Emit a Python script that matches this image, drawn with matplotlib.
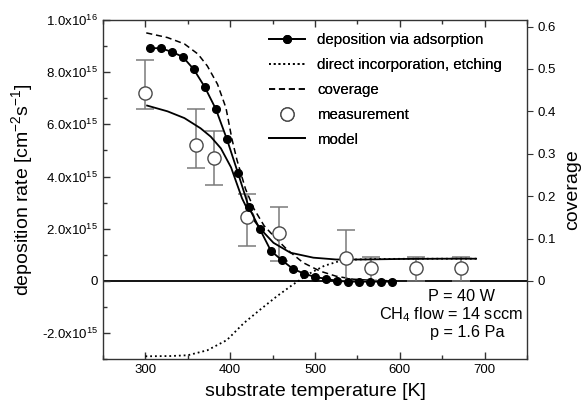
import numpy as np
import matplotlib
matplotlib.use('Agg')
import matplotlib.pyplot as plt
from matplotlib.ticker import FixedLocator, FixedFormatter, MultipleLocator

plt.rcParams['font.family'] = ['Liberation Sans', 'DejaVu Sans']
plt.rcParams['mathtext.fontset'] = 'custom'
plt.rcParams['mathtext.rm'] = 'Liberation Sans'
plt.rcParams['mathtext.it'] = 'Liberation Sans:italic'
plt.rcParams['mathtext.default'] = 'rm'

# deposition via adsorption (filled dots)
T_ads = [305, 318, 331, 344, 357, 370, 383, 396, 409, 422, 435, 448,
         461, 474, 487, 500, 513, 526, 539, 552, 565, 578, 591]
r_ads = [8.92e15, 8.92e15, 8.78e15, 8.59e15, 8.11e15, 7.43e15, 6.59e15,
         5.44e15, 4.15e15, 2.82e15, 1.98e15, 1.15e15, 0.79e15, 0.46e15,
         0.28e15, 0.15e15, 0.08e15, 0.0, -0.03e15, -0.03e15, -0.03e15,
         -0.03e15, -0.03e15]

# direct incorporation, etching (dotted)
T_dir = [300, 330, 350, 373, 396, 416, 435, 455, 474, 482, 491, 511,
         530, 549, 580, 620, 660, 690]
r_dir = [-2.89e15, -2.88e15, -2.85e15, -2.66e15, -2.27e15, -1.62e15,
         -1.11e15, -0.59e15, -0.14e15, 0.03e15, 0.24e15, 0.58e15,
         0.77e15, 0.82e15, 0.84e15, 0.85e15, 0.85e15, 0.85e15]

# model (solid)
T_mod = [302, 326, 346, 365, 377, 389, 401, 414, 424, 436, 451, 471,
         498, 525, 556, 600, 650, 690]
r_mod = [6.72e15, 6.50e15, 6.24e15, 5.85e15, 5.53e15, 5.08e15, 4.35e15,
         3.16e15, 2.50e15, 1.98e15, 1.46e15, 1.08e15, 0.89e15, 0.82e15,
         0.82e15, 0.84e15, 0.85e15, 0.85e15]

# coverage (dashed, right axis)
T_cov = [301, 326, 346, 362, 373, 385, 395, 402, 408, 418, 428, 440,
         453, 467, 486, 506, 525, 545, 570, 600]
cov = [0.585, 0.574, 0.559, 0.535, 0.507, 0.464, 0.408, 0.335, 0.285,
       0.217, 0.170, 0.130, 0.102, 0.074, 0.043, 0.023, 0.011, 0.004,
       0.001, 0.0]

# measurement with error bars
T_meas = [300, 360, 381, 420, 458, 536, 566, 619, 672]
r_meas = [7.21e15, 5.21e15, 4.72e15, 2.44e15, 1.82e15, 0.89e15,
          0.48e15, 0.48e15, 0.48e15]
r_hi = [8.46e15, 6.59e15, 5.73e15, 3.34e15, 2.82e15, 1.96e15,
        0.92e15, 0.92e15, 0.92e15]
r_lo = [6.59e15, 4.34e15, 3.69e15, 1.32e15, 0.76e15, 0.0,
        0.0, 0.0, 0.0]

yticks = [-2e15, 0, 2e15, 4e15, 6e15, 8e15, 1e16]
ytick_labels = ['-2.0x10$^{15}$', '0', '2.0x10$^{15}$', '4.0x10$^{15}$',
                '6.0x10$^{15}$', '8.0x10$^{15}$', '1.0x10$^{16}$']
cov_ticks = [0, 0.1, 0.2, 0.3, 0.4, 0.5, 0.6]
cov_labels = ['0', '0.1', '0.2', '0.3', '0.4', '0.5', '0.6']

fig = plt.figure(figsize=(5.82, 4.04), dpi=100)
ax = fig.add_axes([0.177, 0.111, 0.7285, 0.8395])

ax.axhline(0, color='black', linewidth=1.3, zorder=1)

err = [np.array(r_meas) - np.array(r_lo), np.array(r_hi) - np.array(r_meas)]
ax.errorbar(T_meas, r_meas, yerr=err, fmt='none', ecolor='#7a7a7a',
            elinewidth=1.1, capsize=6.5, capthick=1.1, zorder=2)
meas, = ax.plot(T_meas, r_meas, 'o', mfc='white', mec='#4a4a4a', ms=9.5,
                mew=1.0, linestyle='none', zorder=3, label='measurement')
ads, = ax.plot(T_ads, r_ads, '-o', color='black', ms=5.5, lw=1.3,
               zorder=4, label='deposition via adsorption')
dire, = ax.plot(T_dir, r_dir, ':', color='black', lw=1.3,
                label='direct incorporation, etching')
mod, = ax.plot(T_mod, r_mod, '-', color='black', lw=1.3, label='model')

ax.set_xlim(250, 750)
ax.set_ylim(-3e15, 1e16)
ax.xaxis.set_major_locator(FixedLocator([300, 400, 500, 600, 700]))
ax.xaxis.set_minor_locator(MultipleLocator(50))
ax.yaxis.set_major_locator(FixedLocator(yticks))
ax.yaxis.set_major_formatter(FixedFormatter(ytick_labels))
ax.yaxis.set_minor_locator(MultipleLocator(1e15))
ax.tick_params(axis='both', which='both', direction='in', labelsize=9.5,
               width=1.0, color='#333333')
ax.tick_params(axis='x', which='both', top=True)
ax.tick_params(which='major', length=5)
ax.tick_params(which='minor', length=3)
for s in ax.spines.values():
    s.set_color('#333333')
    s.set_linewidth(1.0)

ax.set_xlabel('substrate temperature [K]', fontsize=14, labelpad=5)
ax.set_ylabel('deposition rate [cm$^{-2}$s$^{-1}$]', fontsize=14, labelpad=5)

ax2 = ax.twinx()
cov_line, = ax2.plot(T_cov, cov, '--', color='black', lw=1.1,
                     dashes=(4, 2.5), label='coverage')
ax2.set_ylim(-0.1846, 0.6154)
ax2.yaxis.set_major_locator(FixedLocator(cov_ticks))
ax2.yaxis.set_major_formatter(FixedFormatter(cov_labels))
ax2.tick_params(axis='y', direction='out', length=4, labelsize=9.5,
                color='#333333')
ax2.set_ylabel('coverage', fontsize=14, labelpad=6)
for s in ax2.spines.values():
    s.set_visible(False)

leg = ax.legend([ads, dire, cov_line, meas, mod],
                ['deposition via adsorption', 'direct incorporation, etching',
                 'coverage', 'measurement', 'model'],
                loc='upper left', bbox_to_anchor=(0.36, 1.0), frameon=False,
                fontsize=10.8, handlelength=2.4, labelspacing=0.72)
ax.add_artist(leg)
ax.set_zorder(ax2.get_zorder() + 1)
ax.patch.set_visible(False)

ax.text(0.767, 0.17, 'P = 40 W', transform=ax.transAxes, fontsize=11.7)
ax.text(0.651, 0.117, 'CH$_4$ flow = 14 sccm', transform=ax.transAxes,
        fontsize=11.7)
ax.text(0.771, 0.064, 'p = 1.6 Pa', transform=ax.transAxes, fontsize=11.7)

fig.savefig('out.png', dpi=100)
